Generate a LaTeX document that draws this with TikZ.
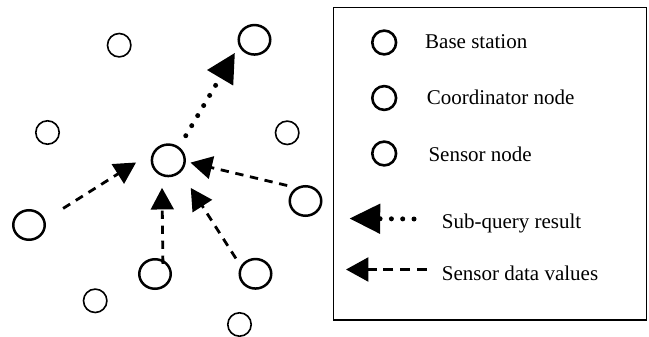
\documentclass[tikz,border=0pt]{standalone}
\usepackage{fontspec}
\setmainfont{Liberation Serif}
\usetikzlibrary{arrows.meta,shapes.geometric}
\begin{document}
\begin{tikzpicture}[x=1pt,y=-1pt,
  smallnode/.style={circle,draw,line width=1.6pt,minimum size=23.4pt,inner sep=0pt},
  bignode/.style={ellipse,draw,line width=2.5pt,minimum width=31.5pt,minimum height=29.5pt,inner sep=0pt},
  hubnode/.style={ellipse,draw,line width=2.5pt,minimum width=32.8pt,minimum height=31.5pt,inner sep=0pt},
  legcirc/.style={circle,draw,line width=2.6pt,minimum size=23.8pt,inner sep=0pt},
  lbl/.style={anchor=base west,inner sep=0pt,font=\fontsize{21}{25}\selectfont},
  dataline/.style={line width=2.8pt,dash pattern=on 8.3pt off 6.7pt,
    -{Triangle[length=21.6pt,width=22.7pt]}},
  queryline/.style={line width=5pt,line cap=round,dash pattern=on 0pt off 11.7pt,
    -{Triangle[length=29pt,width=29pt,line cap=butt]}},
  legbox/.style={draw,line width=1.5pt}
]
\useasboundingbox (0,0) rectangle (649,337);

% plain sensor nodes
\node[smallnode] (s1) at (119.2,45.2) {};
\node[smallnode] (s2) at (47.5,132.5) {};
\node[smallnode] (s3) at (287.2,132.8) {};
\node[smallnode] (s4) at (95.2,300.8) {};
\node[smallnode] (s5) at (239.5,324.5) {};

% active nodes
\node[bignode] (top) at (254.5,39.8) {};
\node[hubnode] (hub) at (168.3,160.3) {};
\node[bignode] (right) at (305.5,201) {};
\node[bignode] (left) at (29,225) {};
\node[bignode] (bot) at (155,274) {};
\node[bignode] (br) at (255.5,273.8) {};

% connectors
\draw[queryline,shorten <=13pt,shorten >=7.8pt] (hub.51) -- (top.202);
\draw[dataline,shorten <=21.3pt,shorten >=20pt] (left.18) -- (hub.151);
\draw[dataline,shorten <=-4pt,shorten >=11.7pt] (bot.61) -- (hub.248);
\draw[dataline,shorten <=8.9pt,shorten >=18.5pt] (br.152) -- (hub.316);
\draw[dataline,shorten <=9.2pt,shorten >=4.7pt] (right.125) -- (hub.356);

% legend
\draw[legbox] (333.5,7.5) rectangle (646.3,320);
\node[legcirc] (lc1) at (384.2,42.5) {};
\node[legcirc] (lc2) at (384.2,98) {};
\node[legcirc] (lc3) at (384.2,153.5) {};
\node[lbl] (t1) at (425,49) {Base station};
\node[lbl] (t2) at (426.7,104.5) {Coordinator node};
\node[lbl] (t3) at (428.3,161) {Sensor node};
\node[lbl] (t4) at (441.7,228.3) {Sub-query result};
\node[lbl] (t5) at (441.7,280) {Sensor data values};

\coordinate (qa) at (414,219);
\coordinate (qb) at (349.5,218.5);
\coordinate (da) at (426.7,269.5);
\coordinate (db) at (346,269.5);
\draw[line width=5pt,line cap=round,dash pattern=on 0pt off 11.3pt,
  -{Triangle[length=30.7pt,width=29pt,line cap=butt]}] (qa) -- (qb);
\draw[line width=3pt,dash pattern=on 10pt off 6.7pt,
  -{Triangle[length=22.3pt,width=23.7pt]}] (da) -- (db);
\end{tikzpicture}
\end{document}
